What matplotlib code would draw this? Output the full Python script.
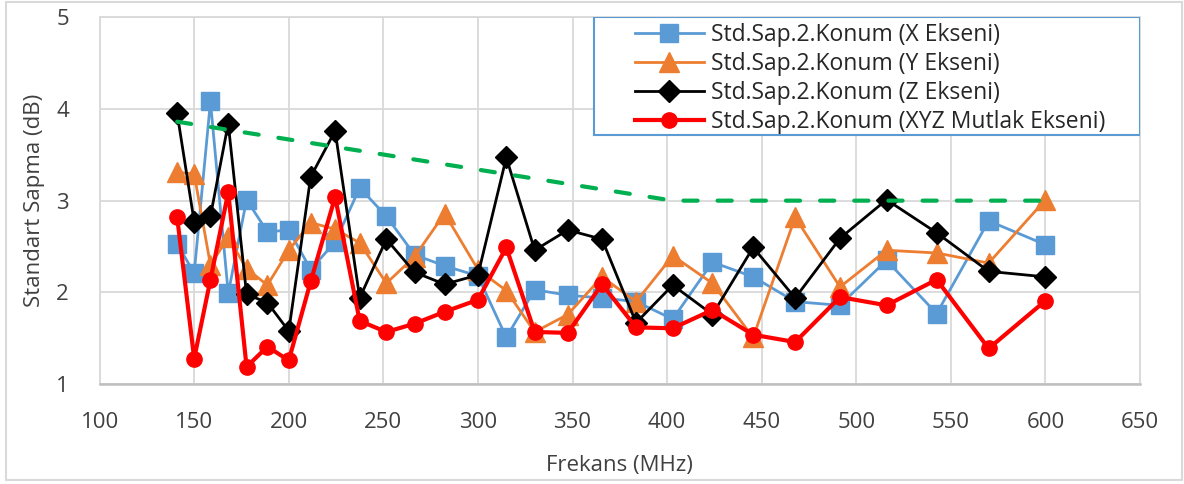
import matplotlib
matplotlib.use("Agg")
import matplotlib.pyplot as plt
from matplotlib.patches import Rectangle

plt.rcParams['font.family'] = ['Open Sans', 'DejaVu Sans']

freq = [141, 150, 158.6, 168, 177.7, 188.7, 200, 211.6, 224.5, 237.5, 251.6, 266.5,
        282.4, 300, 315, 330, 347.5, 365.6, 383.6, 403, 424, 445.5, 467.7, 491.4,
        516, 542.5, 570, 600]
x_axis = [2.53, 2.21, 4.08, 1.99, 3.01, 2.66, 2.68, 2.25, 2.55, 3.14, 2.83, 2.41,
          2.29, 2.18, 1.51, 2.03, 1.97, 1.94, 1.90, 1.71, 2.33, 2.17, 1.90, 1.86,
          2.35, 1.77, 2.78, 2.52]
y_axis = [3.31, 3.29, 2.30, 2.60, 2.26, 2.08, 2.46, 2.76, 2.69, 2.54, 2.10, 2.39,
          2.86, 2.25, 2.02, 1.57, 1.76, 2.17, 1.90, 2.40, 2.10, 1.51, 2.82, 2.06,
          2.46, 2.43, 2.32, 3.01]
z_axis = [3.95, 2.77, 2.83, 3.84, 1.98, 1.89, 1.58, 3.26, 3.76, 1.94, 2.58, 2.22,
          2.09, 2.19, 3.47, 2.46, 2.68, 2.58, 1.67, 2.08, 1.76, 2.49, 1.94, 2.59,
          3.01, 2.65, 2.23, 2.17]
xyz_abs = [2.82, 1.28, 2.14, 3.09, 1.19, 1.41, 1.26, 2.12, 3.04, 1.69, 1.57, 1.66,
           1.79, 1.92, 2.49, 1.57, 1.56, 2.09, 1.62, 1.61, 1.81, 1.54, 1.46, 1.95,
           1.86, 2.14, 1.39, 1.91]
limit_freq = [141, 403, 600]
limit_vals = [3.86, 3.0, 3.0]

labels = ["Std.Sap.2.Konum (X Ekseni)", "Std.Sap.2.Konum (Y Ekseni)",
          "Std.Sap.2.Konum (Z Ekseni)", "Std.Sap.2.Konum (XYZ Mutlak Ekseni)"]
xticks = [100, 150, 200, 250, 300, 350, 400, 450, 500, 550, 600, 650]
yticks = [1, 2, 3, 4, 5]

W, H = 1184, 484
fig = plt.figure(figsize=(W / 100, H / 100), dpi=100)
L, R, T, B = 99.6, 1140, 17, 384.3
ax = fig.add_axes([L / W, 1 - B / H, (R - L) / W, (B - T) / H])

# chart border
fig.patches.append(Rectangle((6 / W, 1 - 480 / H), 1176 / W, 478 / H,
                             transform=fig.transFigure, fill=False,
                             edgecolor='#D9D9D9', lw=1.5))

ax.plot(freq, x_axis, color='#5B9BD5', lw=2.0, marker='s', ms=13,
        markeredgecolor='#5B9BD5', label=labels[0], zorder=3)
ax.plot(freq, y_axis, color='#ED7D31', lw=2.0, marker='^', ms=14,
        markeredgecolor='#ED7D31', label=labels[1], zorder=4)
ax.plot(freq, z_axis, color='black', lw=2.0, marker='D', ms=11,
        label=labels[2], zorder=5)
ax.plot(freq, xyz_abs, color='#FF0000', lw=3.0, marker='o', ms=11,
        label=labels[3], zorder=6)
gl, = ax.plot(limit_freq, limit_vals, color='#00B050', lw=3.0, zorder=7,
              dash_capstyle='round')
gl.set_dashes((3.4, 4.8))

ax.set_xlim(100, 650)
ax.set_ylim(1, 5)
ax.set_xticks(xticks)
ax.set_yticks(yticks)
ax.grid(True, color='#D9D9D9', lw=1.3, zorder=0)
ax.set_axisbelow(True)
for s in ['left', 'top', 'right']:
    ax.spines[s].set_color('#D9D9D9')
    ax.spines[s].set_linewidth(1.3)
ax.spines['bottom'].set_color('#BFBFBF')
ax.spines['bottom'].set_linewidth(1.8)
ax.tick_params(length=0, labelsize=16, colors='#404040')
ax.tick_params(axis='x', pad=20)
ax.tick_params(axis='y', pad=22)
ax.set_xlabel('Frekans (MHz)', fontsize=16, color='#404040', labelpad=16)
ax.set_ylabel('Standart Sapma (dB)', fontsize=16, color='#404040', labelpad=8)

# legend
lx0 = (594 - L) / (R - L)
ly0 = (B - 135) / (B - T)
ax.add_patch(Rectangle((lx0, ly0), 1 - lx0, 1 - ly0, transform=ax.transAxes,
                       fill=True, facecolor='white', edgecolor='#5B9BD5',
                       lw=1.5, zorder=8))
leg = ax.legend(loc='upper left', bbox_to_anchor=((635 - L) / (R - L), (B - 23) / (B - T)),
                frameon=False, fontsize=16.5, borderpad=0, borderaxespad=0,
                handlelength=3.0, handletextpad=0.3, labelspacing=0.225)
leg.set_zorder(9)
for t in leg.get_texts():
    t.set_color('#262626')

fig.savefig('out.png', dpi=100)
